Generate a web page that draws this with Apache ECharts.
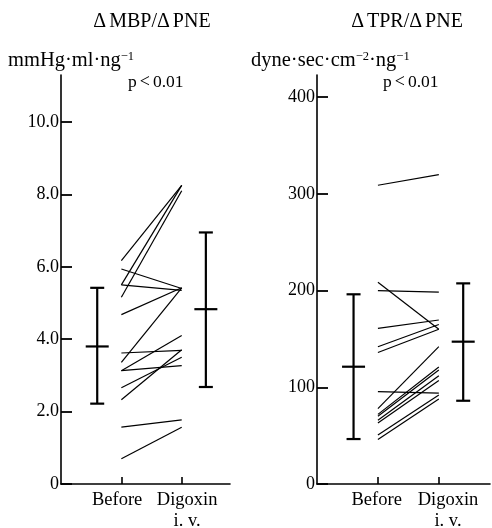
<!DOCTYPE html>
<html>
<head>
<meta charset="utf-8">
<script src="https://cdn.jsdelivr.net/npm/echarts@6/dist/echarts.min.js"></script>
<style>html,body{margin:0;padding:0;background:#fff;}#c{width:492px;height:528px;}</style>
</head>
<body>
<div id="c"></div>
<script>
// ---- data ----
const categories = ['Before', 'Digoxin i. v.'];
// ΔMBP/ΔPNE (mmHg·ml·ng-1), individual patients
const mbpBefore = [6.17, 5.94, 5.50, 5.50, 5.16, 4.68, 3.62, 3.36, 3.13, 3.13, 2.66, 2.33, 1.57, 0.70];
const mbpAfter  = [8.25, 5.40, 8.25, 5.35, 8.10, 5.42, 3.69, 5.42, 3.27, 4.10, 3.50, 3.71, 1.77, 1.57];
const mbpMean  = [3.80, 4.83];
const mbpUpper = [5.42, 6.95];
const mbpLower = [2.22, 2.68];
// ΔTPR/ΔPNE (dyne·sec·cm-2·ng-1)
const tprBefore = [309, 208.6, 200, 161, 142, 136, 95.5, 78, 72, 70, 66, 63, 50.7, 46];
const tprAfter  = [320, 160, 198.5, 169.6, 165, 160, 94, 142, 121, 118, 112, 107, 92, 88];
const tprMean  = [121.3, 147.2];
const tprUpper = [196.2, 207.5];
const tprLower = [46.5, 86.1];
const mbpTicks = [0, 2, 4, 6, 8, 10];
const tprTicks = [0, 100, 200, 300, 400];

// ---- layout constants ----
const X_BEFORE = 1, X_AFTER = 2, X_SD_BEFORE = 0.6, X_SD_AFTER = 2.4;
const FONT = '"Liberation Serif", "DejaVu Serif", serif';

const chart = echarts.init(document.getElementById('c'), null, {renderer: 'canvas'});

function pairData(b, a) { return b.map((v, i) => [X_BEFORE, v, X_AFTER, a[i]]); }
function sdData(mean, up, lo) {
  return [[X_SD_BEFORE, lo[0], mean[0], up[0]], [X_SD_AFTER, lo[1], mean[1], up[1]]];
}
function renderPair(params, api) {
  const p1 = api.coord([api.value(0), api.value(1)]);
  const p2 = api.coord([api.value(2), api.value(3)]);
  return {type: 'line', shape: {x1: p1[0], y1: p1[1], x2: p2[0], y2: p2[1]},
    style: {stroke: '#000', lineWidth: 1.2}};
}
function renderSD(params, api) {
  const x = api.value(0);
  const lo = api.coord([x, api.value(1)]);
  const mn = api.coord([x, api.value(2)]);
  const hi = api.coord([x, api.value(3)]);
  const st = {stroke: '#000', lineWidth: 2.2};
  return {type: 'group', children: [
    {type: 'line', shape: {x1: lo[0], y1: lo[1], x2: hi[0], y2: hi[1]}, style: st},
    {type: 'line', shape: {x1: hi[0] - 7, y1: hi[1], x2: hi[0] + 7, y2: hi[1]}, style: st},
    {type: 'line', shape: {x1: lo[0] - 7, y1: lo[1], x2: lo[0] + 7, y2: lo[1]}, style: st},
    {type: 'line', shape: {x1: mn[0] - 11.5, y1: mn[1], x2: mn[0] + 11.5, y2: mn[1]}, style: st}
  ]};
}

// label anchor positions (slightly off the ticks, as in the original print)
function xAxis(gi, max, labelPos) {
  const words = categories[1].split(' ');
  return {
    type: 'value', gridIndex: gi, min: 0, max: max,
    splitLine: {show: false},
    axisLine: {lineStyle: {color: '#000', width: 1.6}},
    axisTick: {inside: true, length: 7, customValues: [X_BEFORE, X_AFTER], lineStyle: {color: '#000', width: 1.6}},
    axisLabel: {
      customValues: labelPos, margin: 6, verticalAlign: 'top', hideOverlap: false,
      formatter: (v, i) => v === labelPos[0] ? '{d|' + categories[0] + '}'
        : '{d|' + words[0] + '}\n{d|' + words.slice(1).join(' ') + '}',
      rich: {
        d: {fontFamily: FONT, fontSize: 18.5, color: '#000', lineHeight: 21}
      }
    }
  };
}
function yAxis(gi, max, ticks, fmt) {
  return {
    type: 'value', gridIndex: gi, min: 0, max: max,
    splitLine: {show: false},
    axisLine: {show: true, lineStyle: {color: '#000', width: 1.6}},
    axisTick: {show: true, inside: true, length: 11, customValues: ticks, lineStyle: {color: '#000', width: 1.8}},
    axisLabel: {customValues: ticks, margin: 2, formatter: fmt, fontFamily: FONT, fontSize: 18, color: '#000',
      hideOverlap: false}
  };
}

const unitRich = {
  sup: {fontFamily: FONT, fontSize: 12.5, fontWeight: 'normal', color: '#000', verticalAlign: 'top', lineHeight: 21, padding: [0, 0, 7, 0]},
  n: {fontFamily: FONT, fontSize: 20.5, fontWeight: 'normal', color: '#000', lineHeight: 21}
};
const pRich = {
  n: {fontFamily: FONT, fontSize: 17.5, fontWeight: 'normal', color: '#000'},
  l: {fontFamily: FONT, fontSize: 18, fontWeight: 'normal', color: '#000', padding: [0, 3, 0, 3]}
};
const headRich = {
  n: {fontFamily: FONT, fontSize: 20, fontWeight: 'normal', color: '#000'},
  d: {fontFamily: FONT, fontSize: 20, fontWeight: 'normal', color: '#000', padding: [0, 3, 0, 0]}
};

chart.setOption({
  animation: false,
  backgroundColor: '#fff',
  title: [
    {text: '{d|Δ}{n|MBP/}{d|Δ}{n|PNE}', left: 152, top: 12, textAlign: 'center', padding: 0,
      textStyle: {rich: headRich}},
    {text: '{d|Δ}{n|TPR/}{d|Δ}{n|PNE}', left: 407, top: 12, textAlign: 'center', padding: 0,
      textStyle: {rich: headRich}},
    {text: '{n|mmHg·ml·ng}{sup|−1}', left: 8, top: 50, padding: 0,
      textStyle: {rich: unitRich}},
    {text: '{n|dyne·sec·cm}{sup|−2}{n|·ng}{sup|−1}', left: 251, top: 50, padding: 0,
      textStyle: {rich: unitRich}},
    {text: '{n|p}{l|<}{n|0.01}', left: 128, top: 73, padding: 0,
      textStyle: {rich: pRich}},
    {text: '{n|p}{l|<}{n|0.01}', left: 383, top: 73, padding: 0,
      textStyle: {rich: pRich}}
  ],
  grid: [
    {left: 61, top: 75, width: 169, height: 409, containLabel: false, outerBoundsMode: 'none'},
    {left: 317, top: 75, width: 173, height: 409, containLabel: false, outerBoundsMode: 'none'}
  ],
  xAxis: [xAxis(0, 2.8, [0.93, 2.09]), xAxis(1, 2.84, [0.98, 2.15])],
  yAxis: [
    yAxis(0, 11.3, mbpTicks, v => v === 0 ? '0' : v.toFixed(1)),
    yAxis(1, 423, tprTicks, v => String(v))
  ],
  series: [
    {type: 'custom', xAxisIndex: 0, yAxisIndex: 0, renderItem: renderPair,
      encode: {x: [0, 2], y: [1, 3]}, data: pairData(mbpBefore, mbpAfter), silent: true},
    {type: 'custom', xAxisIndex: 0, yAxisIndex: 0, renderItem: renderSD,
      encode: {x: 0, y: [1, 2, 3]}, data: sdData(mbpMean, mbpUpper, mbpLower), silent: true},
    {type: 'custom', xAxisIndex: 1, yAxisIndex: 1, renderItem: renderPair,
      encode: {x: [0, 2], y: [1, 3]}, data: pairData(tprBefore, tprAfter), silent: true},
    {type: 'custom', xAxisIndex: 1, yAxisIndex: 1, renderItem: renderSD,
      encode: {x: 0, y: [1, 2, 3]}, data: sdData(tprMean, tprUpper, tprLower), silent: true}
  ]
});
</script>
</body>
</html>
